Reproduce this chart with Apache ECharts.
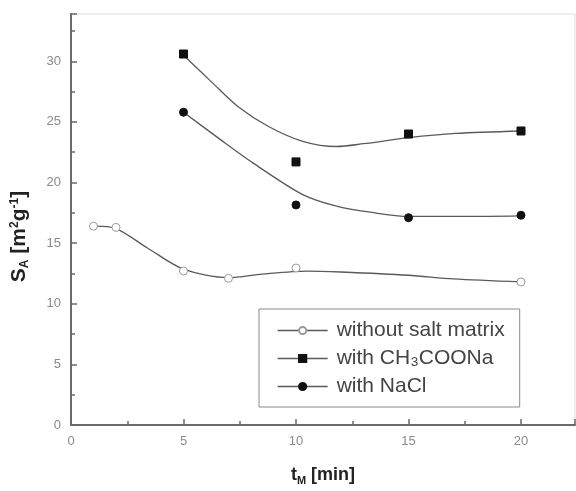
<!DOCTYPE html>
<html>
<head>
<meta charset="utf-8">
<script src="https://cdn.jsdelivr.net/npm/echarts@6/dist/echarts.min.js"></script>
<style>
  html, body { margin: 0; padding: 0; background: #fff; }
  #main { width: 576px; height: 491px; }
</style>
</head>
<body>
<div id="main"></div>
<script>
// measured points [t_M, S_A]
var withoutSalt = [[1, 16.4], [2, 16.3], [5, 12.7], [7, 12.1], [10, 12.95], [20, 11.8]];
var withAcetate = [[5, 30.6], [10, 21.7], [15, 24.0], [20, 24.25]];
var withNaCl = [[5, 25.8], [10, 18.15], [15, 17.1], [20, 17.3]];

// fitted curves
var fitWithout = [[1, 16.4], [2, 16.2], [3.4, 14.6], [5, 12.85], [7, 12.15], [8.5, 12.45],
    [10.5, 12.7], [12, 12.62], [15, 12.35], [17, 12.05], [20, 11.8]];
var fitAcetate = [[5, 30.5], [6.3, 28.2], [7.4, 26.3], [8.8, 24.6], [10.3, 23.4], [11.8, 22.97],
    [13, 23.2], [15, 23.7], [17.1, 24.05], [20, 24.25]];
var fitNaCl = [[5, 25.8], [6.6, 23.6], [8.1, 21.6], [10.3, 19.0], [11.8, 18.05], [13.3, 17.55],
    [15, 17.2], [17.5, 17.2], [20, 17.25]];

var seriesNames = ['without salt matrix', 'with CH\u2083COONa', 'with NaCl'];

var chart = echarts.init(document.getElementById('main'));

var axisGray = '#6a6a6a';
var labelGray = '#8a8a8a';
var curveColor = '#5a5a5a';
var font = 'Liberation Sans, Arial, sans-serif';

function fitLine(name, data) {
    return {
        name: name, type: 'line', data: data, smooth: 0.3, symbol: 'none',
        lineStyle: { color: curveColor, width: 1.3 }, silent: true, z: 2
    };
}
function markers(name, data, symbol, fill, border) {
    return {
        name: name, type: 'line', data: data, symbol: symbol, symbolSize: 8, showSymbol: true,
        lineStyle: { opacity: 0 },
        itemStyle: { color: fill, borderColor: border, borderWidth: 1, opacity: 1 },
        z: 3
    };
}

var option = {
    animation: false,
    grid: { left: 71, right: 1, top: 14, bottom: 64, show: true, borderColor: '#dcdcdc', borderWidth: 1 },
    legend: {
        data: seriesNames,
        orient: 'vertical',
        left: 259, top: 309,
        padding: [11, 15, 10, 18],
        itemWidth: 50, itemHeight: 9, itemGap: 7,
        borderColor: '#8a8a8a', borderWidth: 1,
        backgroundColor: '#fff',
        lineStyle: { opacity: 1, color: curveColor, width: 1.3 },
        textStyle: { fontFamily: font, fontSize: 21, color: '#444', padding: [0, 0, 0, 4] }
    },
    xAxis: {
        type: 'value', min: 0, max: 22.4, interval: 5,
        name: '{b|t}{s|M}{b| [min]}', nameLocation: 'middle', nameGap: 40,
        nameTextStyle: {
            rich: {
                b: { fontFamily: font, fontSize: 18, fontWeight: 'bold', color: '#222' },
                s: { fontFamily: font, fontSize: 11, fontWeight: 'bold', color: '#222', padding: [10, 0, 0, 0] }
            }
        },
        axisLine: { lineStyle: { color: axisGray, width: 2 } },
        axisTick: { inside: true, length: 6, lineStyle: { color: axisGray, width: 1.5 } },
        minorTick: { show: true, splitNumber: 2, length: 4, lineStyle: { color: axisGray, width: 1.5 } },
        splitLine: { show: false },
        axisLabel: { color: labelGray, fontSize: 13, margin: 10, showMaxLabel: false, fontFamily: font }
    },
    yAxis: {
        type: 'value', min: 0, max: 33.9, interval: 5,
        name: '{b|S}{s|A}{b| [m}{p|2}{b|g}{p|-1}{b|]}', nameLocation: 'middle', nameGap: 40,
        nameTextStyle: {
            padding: [0, 0, 0, -34],
            rich: {
                b: { fontFamily: font, fontSize: 21, fontWeight: 'bold', color: '#222' },
                s: { fontFamily: font, fontSize: 12, fontWeight: 'bold', color: '#222', padding: [12, 0, 0, 0] },
                p: { fontFamily: font, fontSize: 12, fontWeight: 'bold', color: '#222', padding: [0, 0, 9, 0] }
            }
        },
        axisLine: { lineStyle: { color: axisGray, width: 2 } },
        axisTick: { inside: true, length: 6, lineStyle: { color: axisGray, width: 1.5 } },
        minorTick: { show: true, splitNumber: 2, length: 4, lineStyle: { color: axisGray, width: 1.5 } },
        splitLine: { show: false },
        axisLabel: { color: labelGray, fontSize: 13, margin: 10, showMaxLabel: false, fontFamily: font }
    },
    series: [
        fitLine('fit1', fitWithout),
        fitLine('fit2', fitAcetate),
        fitLine('fit3', fitNaCl),
        markers(seriesNames[0], withoutSalt, 'circle', '#fff', '#9a9a9a'),
        markers(seriesNames[1], withAcetate, 'rect', '#111', '#111'),
        markers(seriesNames[2], withNaCl, 'circle', '#111', '#111')
    ]
};

chart.setOption(option);
</script>
</body>
</html>
